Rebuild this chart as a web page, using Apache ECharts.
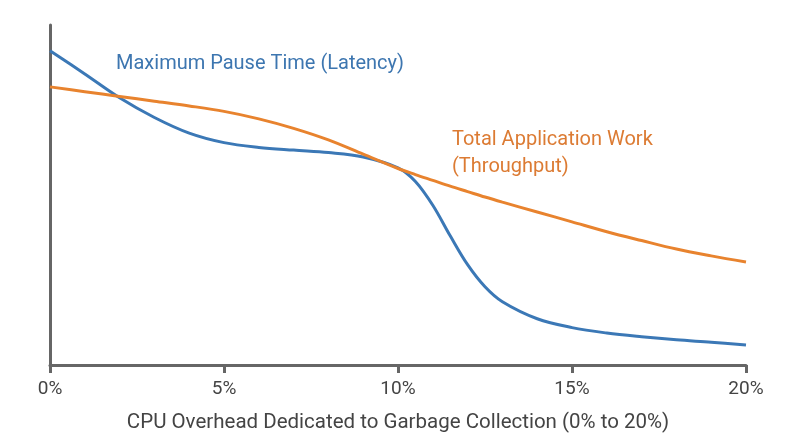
<!DOCTYPE html>
<html>
<head>
<meta charset="utf-8">
<title>GC overhead tradeoff</title>
<script src="https://cdn.jsdelivr.net/npm/echarts@6/dist/echarts.min.js"></script>
<style>
  html, body { margin: 0; padding: 0; background: #fff; }
  #chart { width: 800px; height: 447px; }
</style>
</head>
<body>
<div id="chart"></div>
<script>
// x: CPU overhead dedicated to GC, in percent
const overhead = [0, 1, 2, 3, 4, 5, 6, 7, 8, 9, 10, 10.5, 11, 11.5, 12, 12.5, 13, 14, 15, 16, 17, 18, 19, 20]
// relative values (0-100)
const pauseTime = [92.4, 85.6, 78.6, 72.8, 68.2, 65.4, 64.0, 63.2, 62.5, 61.2, 58.0, 54.0, 47.0, 38.0, 29.5, 23.0, 18.6, 13.6, 11.0, 9.4, 8.3, 7.4, 6.7, 5.9]
const throughput = [81.8, 80.4, 79.0, 77.6, 76.2, 74.6, 72.4, 69.6, 66.2, 62.0, 57.8, 56.0, 54.3, 52.6, 51.0, 49.4, 47.9, 45.0, 42.1, 39.2, 36.6, 34.1, 32.1, 30.3]
const xTicks = [0, 5, 10, 15, 20]

const blue = '#3b78b6'
const orange = '#e8832e'
const font = 'Roboto, "Noto Sans", sans-serif'

const chart = echarts.init(document.getElementById('chart'), null, { renderer: 'canvas' })

chart.setOption({
  animation: false,
  grid: { left: 50, right: 54, top: 25, bottom: 82 },
  xAxis: {
    type: 'value',
    min: 0,
    max: 20,
    interval: 5,
    name: 'CPU Overhead Dedicated to Garbage Collection (0% to 20%)',
    nameLocation: 'middle',
    nameGap: 47,
    nameTextStyle: { color: '#444', fontSize: 20.5, fontFamily: font },
    axisLine: { lineStyle: { color: '#666', width: 3 } },
    axisTick: { length: 8, lineStyle: { color: '#666', width: 3 } },
    axisLabel: {
      color: '#444',
      fontSize: 19,
      fontFamily: font,
      margin: 15,
      formatter: (v) => (xTicks.includes(v) ? v + '%' : ''),
    },
    splitLine: { show: false },
  },
  yAxis: {
    type: 'value',
    min: 0,
    max: 100,
    axisLine: { show: true, lineStyle: { color: '#666', width: 3 } },
    axisTick: { show: false },
    axisLabel: { show: false },
    splitLine: { show: false },
  },
  series: [
    {
      name: 'Maximum Pause Time (Latency)',
      type: 'line',
      smooth: 0.35,
      showSymbol: false,
      lineStyle: { color: blue, width: 3 },
      data: overhead.map((x, i) => [x, pauseTime[i]]),
    },
    {
      name: 'Total Application Work (Throughput)',
      type: 'line',
      smooth: 0.35,
      showSymbol: false,
      lineStyle: { color: orange, width: 3 },
      data: overhead.map((x, i) => [x, throughput[i]]),
    },
  ],
  graphic: [
    {
      type: 'text',
      left: 116,
      top: 54,
      style: { text: 'Maximum Pause Time (Latency)', fill: '#3d76b0', fontSize: 20, fontFamily: font },
    },
    {
      type: 'text',
      left: 452,
      top: 126,
      style: {
        text: 'Total Application Work\n(Throughput)',
        fill: '#dc7b33',
        fontSize: 20,
        lineHeight: 27,
        fontFamily: font,
      },
    },
  ],
})
</script>
</body>
</html>
